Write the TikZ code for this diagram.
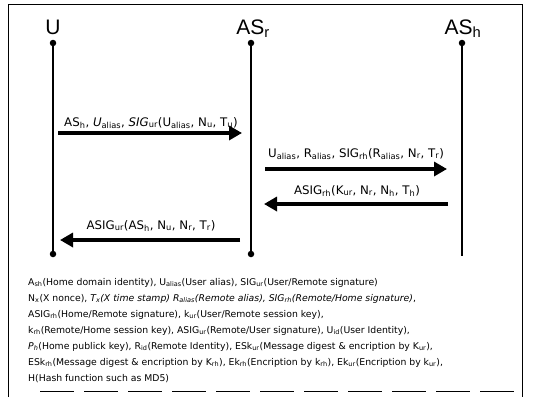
\documentclass[tikz,border=0pt]{standalone}
\usepackage{fontspec}
\setmainfont{Liberation Sans}
\newfontfamily\lblfont{DejaVu Sans}
\usetikzlibrary{arrows.meta}
\newcommand{\sbs}[1]{\textsubscript{#1}}
\begin{document}
\begin{tikzpicture}[x=1pt,y=-1pt,
 frame/.style={line width=1pt},
 life/.style={line width=1.5pt},
 dotn/.style={circle,fill,inner sep=0pt,minimum size=6.5pt},
 msg/.style={line width=3.5pt,-{Triangle[length=13pt,width=14pt]}},
 head/.style={font=\fontsize{21}{21}\selectfont, anchor=base, inner sep=0pt},
 lbl/.style={font=\lblfont\fontsize{11.8}{12}\selectfont, anchor=base, inner sep=0pt},
 legend/.style={font=\lblfont\fontsize{9.3}{12}\selectfont, anchor=base west, inner sep=0pt}]
\useasboundingbox (0,0) rectangle (534,397);
% frame
\draw[frame] (8,397) -- (8,4) -- (522,4) -- (522,397);
\draw[frame, dash pattern=on 34pt off 10pt] (40,391) -- (522,391);
% headers
\node[head] (hU) at (53,34) {U};
\node[head] (hR) at (253,34) {AS\textsubscript{r}};
\node[head] (hH) at (463,34) {AS\textsubscript{h}};
% lifelines
\node[dotn] (Ut) at (53,43) {};
\node[dotn] (Ub) at (53,254) {};
\node[dotn] (Rt) at (251,43) {};
\node[dotn] (Rb) at (251,254) {};
\node[dotn] (Ht) at (462,43) {};
\coordinate (Hb) at (462,256);
\draw[life] (Ut) -- (Ub);
\draw[life] (Rt) -- (Rb);
\draw[life] (Ht) -- (Hb);
% messages
\coordinate (m1a) at (58,133); \coordinate (m1b) at (242,133);
\coordinate (m2a) at (265,169); \coordinate (m2b) at (447,169);
\coordinate (m3a) at (448,204); \coordinate (m3b) at (264,204);
\coordinate (m4a) at (240,240); \coordinate (m4b) at (60,240);
\draw[msg] (m1a) -- (m1b);
\draw[msg] (m2a) -- (m2b);
\draw[msg] (m3a) -- (m3b);
\draw[msg] (m4a) -- (m4b);
\node[lbl] (l1) at (151,126) {AS\sbs{h}, \textit{U}\sbs{alias}, \textit{SIG}\sbs{ur}(U\sbs{alias}, N\sbs{u}, T\sbs{u})};
\node[lbl] (l2) at (356,157) {U\sbs{alias}, R\sbs{alias}, SIG\sbs{rh}(R\sbs{alias}, N\sbs{r}, T\sbs{r})};
\node[lbl] (l3) at (357,194) {ASIG\sbs{rh}(K\sbs{ur}, N\sbs{r}, N\sbs{h}, T\sbs{h})};
\node[lbl] (l4) at (151,229) {ASIG\sbs{ur}(AS\sbs{h}, N\sbs{u}, N\sbs{r}, T\sbs{r})};
% legend
\node[legend] (g1) at (28,285) {A\sbs{sh}(Home domain identity), U\sbs{alias}(User alias), SIG\sbs{ur}(User/Remote signature)};
\node[legend] (g2) at (28,301) {N\sbs{x}(X nonce), \textit{T\sbs{x}(X time stamp) R\sbs{alias}(Remote alias), SIG\sbs{rh}(Remote/Home signature)},};
\node[legend] (g3) at (28,317) {ASIG\sbs{rh}(Home/Remote signature), k\sbs{ur}(User/Remote session key),};
\node[legend] (g4) at (28,333) {k\sbs{rh}(Remote/Home session key), ASIG\sbs{ur}(Remote/User signature), U\sbs{id}(User Identity),};
\node[legend] (g5) at (28,349) {\textit{P\sbs{h}}(Home publick key), R\sbs{id}(Remote Identity), ESk\sbs{ur}(Message digest \& encription by K\sbs{ur}),};
\node[legend] (g6) at (28,365) {ESk\sbs{rh}(Message digest \& encription by K\sbs{rh}), Ek\sbs{rh}(Encription by k\sbs{rh}), Ek\sbs{ur}(Encription by k\sbs{ur}),};
\node[legend] (g7) at (28,381) {H(Hash function such as MD5)};
\end{tikzpicture}
\end{document}
